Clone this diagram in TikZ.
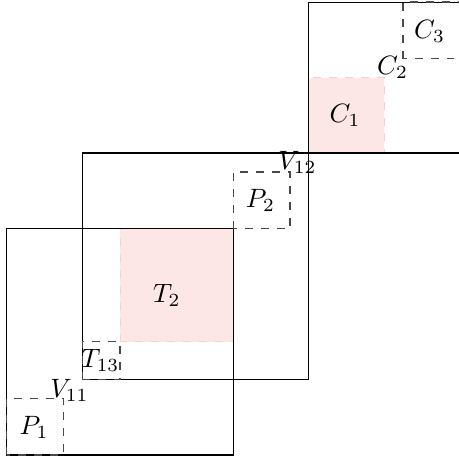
\documentclass[tikz,border=0pt]{standalone}
\usetikzlibrary{calc}
\definecolor{ink}{HTML}{000000}
\definecolor{dashink}{HTML}{4A4A4A}
\definecolor{rosesoft}{HTML}{FDE6E6}
\definecolor{roseline}{HTML}{F6CFCF}
\tikzset{
  block/.style={draw=ink, line width=0.4pt},
  piece/.style={draw=dashink, dashed, line width=0.5pt},
  shaded/.style={fill=rosesoft, draw=roseline, dashed, line width=0.4pt},
  tag/.style={text=ink, inner sep=1pt}
}

\begin{document}
\begin{tikzpicture}[x=1cm,y=1cm]

\useasboundingbox (-0.09,-0.027) rectangle (5.99,6.027);

% Shaded squares
\path[shaded] (1.5,1.5) rectangle (3,3);
\path[shaded] (4,4) rectangle (5,5);

% Large squares
\draw[block] (0,0) rectangle (3,3);
\draw[block] (1,1) rectangle (4,4);
\draw[block] (4,4) rectangle (6,6);

% Small dashed squares
\draw[piece] (0,0) rectangle (0.75,0.75);
\draw[piece] (1,1) rectangle (1.5,1.5);
\draw[piece] (3,3) rectangle (3.75,3.75);
\draw[piece] (5.25,5.25) rectangle (6,6);

% Labels
\node[tag] (p1) at (0.36,0.36) {$P_1$};
\node[tag] (t13) at (1.24,1.25) {$T_{13}$};
\node[tag] (t2) at (2.12,2.12) {$T_2$};
\node[tag] (p2) at (3.36,3.37) {$P_2$};
\node[tag] (c1) at (4.48,4.5) {$C_1$};
\node[tag] (c3) at (5.6,5.61) {$C_3$};
\node[tag] (c2) at (5.11,5.13) {$C_2$};
\node[tag] (v11) at (0.83,0.86) {$V_{11}$};
\node[tag] (v12) at (3.85,3.87) {$V_{12}$};

\end{tikzpicture}
\end{document}
